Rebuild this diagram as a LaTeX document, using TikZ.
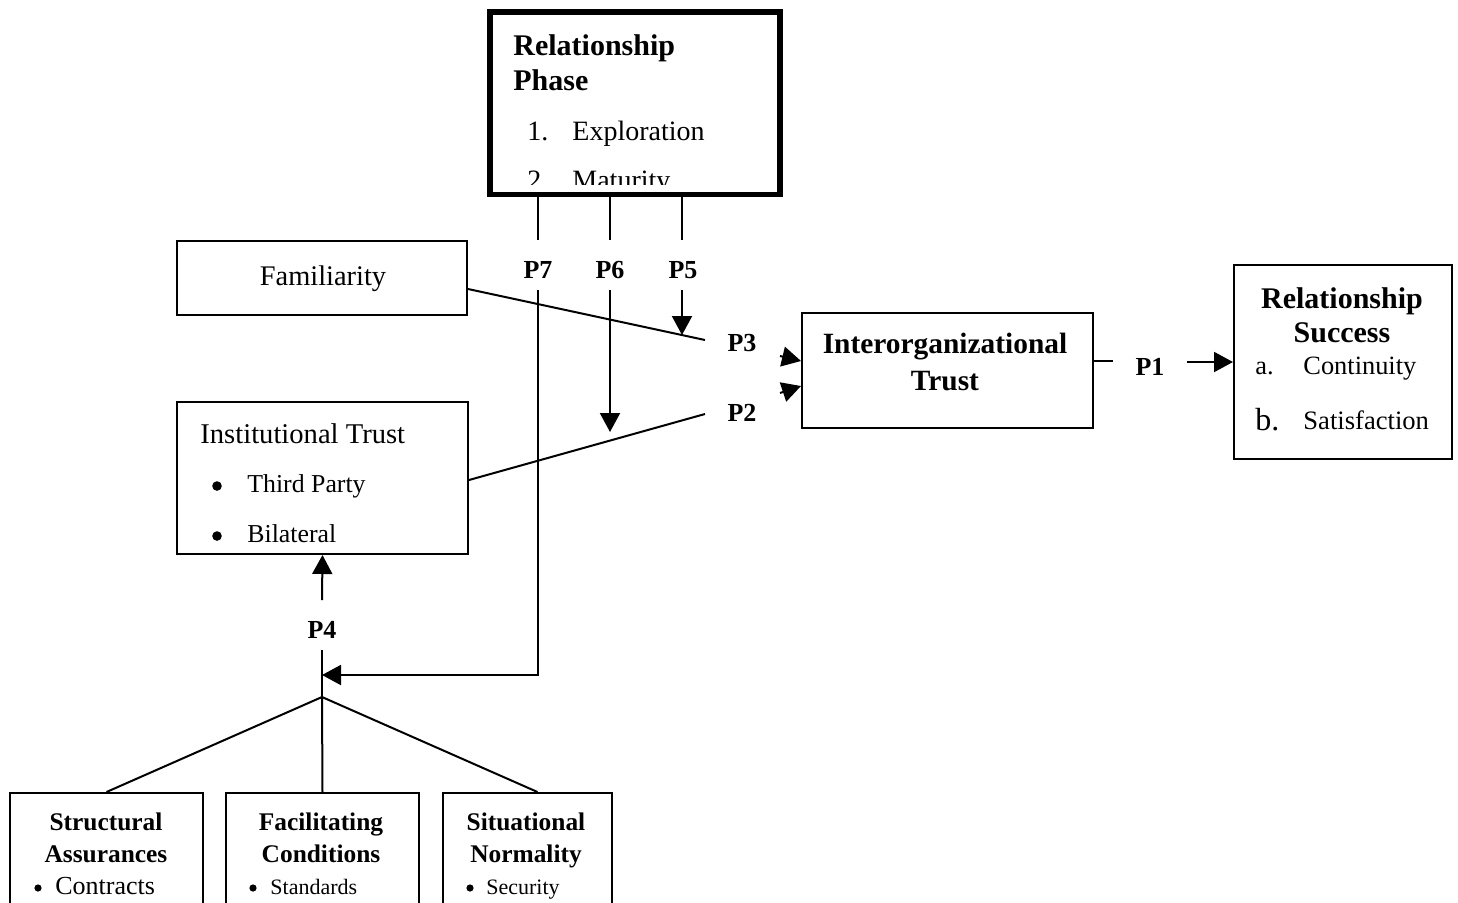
\documentclass[tikz,border=0pt]{standalone}
\usepackage{fontspec}
\setmainfont{Liberation Serif}
\usetikzlibrary{arrows.meta,fit,calc}
\begin{document}
\begin{tikzpicture}[x=0.5pt,y=-0.5pt,
  box/.style={draw,line width=1pt,inner sep=0pt,rectangle},
  ln/.style={line width=1pt},
  arr/.style={line width=1pt,-{Triangle[length=9.5pt,width=10pt]}},
  txt/.style={inner sep=0pt,anchor=base},
  lt/.style={txt,anchor=base west},
  plab/.style={txt,font=\bfseries\fontsize{13}{16}\selectfont},
  head/.style={font=\bfseries\fontsize{15}{18}\selectfont},
  bhead/.style={txt,font=\bfseries\fontsize{12.7}{15}\selectfont},
  bul/.style={circle,fill,inner sep=0pt,minimum size=4.8pt},
  sbul/.style={circle,fill,inner sep=0pt,minimum size=3.6pt},
]
\useasboundingbox (0,0) rectangle (1458,902);
\clip (0,0) rectangle (1458,902);

% ---- Relationship Phase (clipped content)
\begin{scope}
\clip (490,12) rectangle (780,184);
\node[lt,head] (rp1) at (513,55) {Relationship};
\node[lt,head] (rp2) at (513,90) {Phase};
\node[lt,font=\fontsize{14}{17}\selectfont] (n1) at (527,140) {1.};
\node[lt,font=\fontsize{14}{17}\selectfont] (ex) at (572,140) {Exploration};
\node[lt,font=\fontsize{14}{17}\selectfont] (n2) at (527,189) {2.};
\node[lt,font=\fontsize{14}{17}\selectfont] (mat) at (572,189) {Maturity};
\end{scope}
\node[box,line width=2.8pt,fit={(490,12) (780,194.5)}] (phase) {};

% ---- boxes
\node[box,fit={(177,241) (467,315)}] (fam) {};
\node[box,fit={(177,402) (468,554)}] (inst) {};
\node[box,fit={(802,313) (1093,428)}] (inter) {};
\node[box,fit={(1234,265) (1452,459)}] (succ) {};
\node[box,fit={(10,793) (203,930)}] (b1) {};
\node[box,fit={(226,793) (419,930)}] (b2) {};
\node[box,fit={(443,793) (612,930)}] (b3) {};

% ---- texts
\node[txt,font=\fontsize{14.2}{17}\selectfont] (famt) at (323,285) {Familiarity};
\node[lt,font=\fontsize{14.3}{17}\selectfont] (instt) at (200,443) {Institutional Trust};
\node[bul] (bu1) at (217,486) {};
\node[lt,font=\fontsize{12.9}{16}\selectfont] (tp) at (247,492) {Third Party};
\node[bul] (bu2) at (217,536) {};
\node[lt,font=\fontsize{12.9}{16}\selectfont] (bil) at (247,542) {Bilateral};

\node[txt,font=\bfseries\fontsize{14.7}{18}\selectfont] (it1) at (945,353) {Interorganizational};
\node[txt,font=\bfseries\fontsize{14.7}{18}\selectfont] (it2) at (945,390) {Trust};

\node[txt,head] (rs1) at (1342,308) {Relationship};
\node[txt,head] (rs2) at (1342,342) {Success};
\node[lt,font=\fontsize{13.2}{16}\selectfont] (ra) at (1255,374) {a.};
\node[lt,font=\fontsize{13.2}{16}\selectfont] (rc) at (1303,374) {Continuity};
\node[lt,font=\fontsize{16}{19}\selectfont] (rb) at (1255,430) {b.};
\node[lt,font=\fontsize{13.3}{16}\selectfont] (rsat) at (1303,429) {Satisfaction};

\node[bhead] (s1) at (106,830) {Structural};
\node[bhead] (s2) at (106,862) {Assurances};
\node[sbul] (s3b) at (38,888) {};
\node[lt,font=\fontsize{13}{16}\selectfont] (s3) at (55,894) {Contracts};
\node[bhead] (f1) at (321,830) {Facilitating};
\node[bhead] (f2) at (321,862) {Conditions};
\node[sbul] (f3b) at (253,888) {};
\node[lt,font=\fontsize{11}{14}\selectfont] (f3) at (270,894) {Standards};
\node[bhead] (n1b) at (526,830) {Situational};
\node[bhead] (n2b) at (526,862) {Normality};
\node[sbul] (n3b) at (470,888) {};
\node[lt,font=\fontsize{11}{14}\selectfont] (n3) at (486,894) {Security};

% ---- P labels
\node[plab] (p7) at (538,278) {P7};
\node[plab] (p6) at (610,278) {P6};
\node[plab] (p5) at (683,278) {P5};
\node[plab] (p3) at (742,351) {P3};
\node[plab] (p2) at (742,421) {P2};
\node[plab] (p1) at (1150,375) {P1};
\node[plab] (p4) at (322,638) {P4};

% ---- coordinates
\coordinate (c7a) at (538,240);
\coordinate (c7b) at (538,290);
\coordinate (c6a) at (610,240);
\coordinate (c6b) at (610,290);
\coordinate (c6e) at (610,432);
\coordinate (c5a) at (682,240);
\coordinate (c5b) at (682,290);
\coordinate (c5e) at (682,335);
\coordinate (c4m) at (322,675);
\coordinate (c4t) at (322,600);
\coordinate (c4b) at (322,650);
\coordinate (j) at (322,697);
\coordinate (c3) at (705,340);
\coordinate (c2) at (705,414);
\coordinate (a3) at (780,356);
\coordinate (a2) at (780,393);
\coordinate (c1a) at (1113,361);
\coordinate (c1b) at (1187,362);

% ---- connectors
\draw[ln] (phase.south -| c7a) -- (c7a);
\draw[ln] (phase.south -| c6a) -- (c6a);
\draw[ln] (phase.south -| c5a) -- (c5a);
\draw[arr] (c7b) |- (c4m);
\draw[arr] (c6b) -- (c6e);
\draw[arr] (c5b) -- (c5e);
\draw[ln] ($(fam.east)+(0,11)$) -- (c3);
\draw[ln] ($(inst.east)+(0,2)$) -- (c2);
\draw[arr] (a3) -- ($(inter.west)+(0,-9.5)$);
\draw[arr] (a2) -- ($(inter.west)+(0,15.5)$);
\draw[ln] ($(inter.east)+(0,-9.5)$) -- (c1a);
\draw[arr] (c1b) -- (succ.west);
\draw[arr] (c4t) -- (inst.south);
\draw[ln] (c4b) -- (j);
\draw[ln] (j) -- (b1.north);
\draw[ln] (j) -- (b2.north);
\draw[ln] (j) -- ($(b3.north)+(10,0)$);
\end{tikzpicture}
\end{document}
